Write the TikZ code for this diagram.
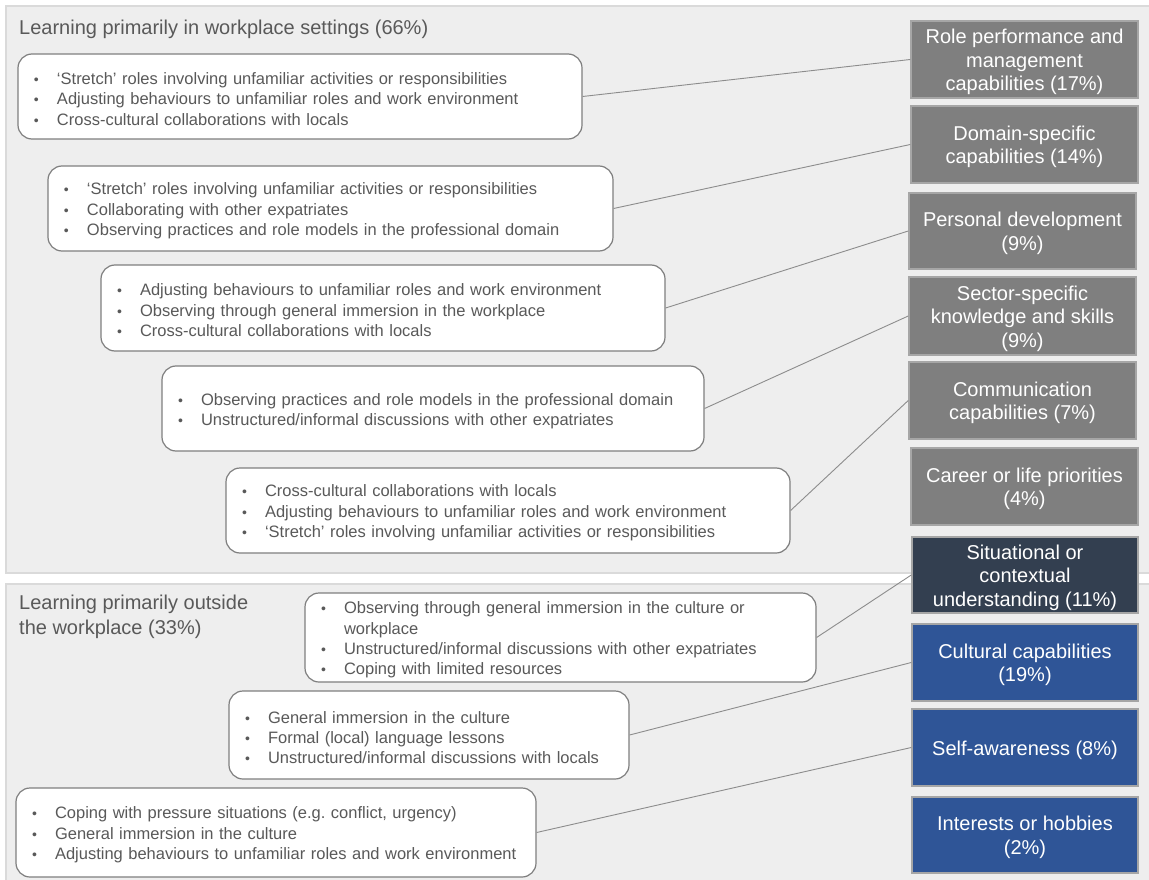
\documentclass[tikz,border=0pt]{standalone}
\usepackage{fontspec}
\setmainfont{Liberation Sans}
\frenchspacing
\definecolor{panelfill}{HTML}{EEEEEE}
\definecolor{panelline}{HTML}{DADADA}
\definecolor{txtgray}{HTML}{595959}
\definecolor{listline}{HTML}{7F7F7F}
\definecolor{boxgray}{HTML}{7F7F7F}
\definecolor{boxline}{HTML}{A6A6A6}
\definecolor{navybox}{HTML}{333F50}
\definecolor{bluebox}{HTML}{2F5597}
\definecolor{connline}{HTML}{8C8C8C}
\newcommand{\itm}[1]{\makebox[24pt][l]{\hspace{1pt}\fontsize{14}{14}\selectfont\textbullet}#1}
\begin{document}
\begin{tikzpicture}[x=1pt,y=-1pt,
  panel/.style={fill=panelfill, draw=panelline, line width=1.5pt},
  listbox/.style={draw=listline, line width=1.2pt, fill=white, rounded corners=14pt, inner sep=0pt},
  listtext/.style={inner xsep=0pt, inner ysep=0pt, align=left, text=txtgray, yshift=-2.5pt,
    font=\fontsize{16.5}{20.4}\selectfont},
  catbox/.style={draw=boxline, line width=1.5pt, inner sep=0pt},
  cattext/.style={text=white, align=center, inner sep=0pt, yshift=-2.5pt,
    font=\fontsize{20}{23.6}\selectfont},
  graybox/.style={catbox, fill=boxgray},
  navyboxst/.style={catbox, fill=navybox},
  blueboxst/.style={catbox, fill=bluebox},
  conn/.style={draw=connline, line width=0.9pt},
  ttl/.style={text=txtgray, font=\fontsize{20}{25}\selectfont, inner sep=0pt, align=left}
]
\useasboundingbox (0,0) rectangle (1149,880);
\fill[white] (0,0) rectangle (1149,880);
% panels
\draw[panel] (6,6) rectangle (1155,573);
\draw[panel] (6,584) rectangle (1155,886);
\node[ttl, anchor=west] (t1) at (19,29) {Learning primarily in workplace settings (66\%)};
\node[ttl, anchor=north west] (t2) at (19,595) {Learning primarily outside\\the workplace (33\%)};

% list boxes
\node[listbox, minimum width=564pt, minimum height=85pt] (a) at (300,96.5) {};
\node[listtext, text width=534pt] (at) at (a.center)
 {\itm{‘Stretch’ roles involving unfamiliar activities or responsibilities}\\
  \itm{Adjusting behaviours to unfamiliar roles and work environment}\\
  \itm{Cross-cultural collaborations with locals}};
\node[listbox, minimum width=565pt, minimum height=85pt] (b) at (330.5,208.5) {};
\node[listtext, text width=535pt] (bt) at (b.center)
 {\itm{‘Stretch’ roles involving unfamiliar activities or responsibilities}\\
  \itm{Collaborating with other expatriates}\\
  \itm{Observing practices and role models in the professional domain}};
\node[listbox, minimum width=564pt, minimum height=86pt] (c) at (383,308) {};
\node[listtext, text width=534pt] (ct) at (c.center)
 {\itm{Adjusting behaviours to unfamiliar roles and work environment}\\
  \itm{Observing through general immersion in the workplace}\\
  \itm{Cross-cultural collaborations with locals}};
\node[listbox, minimum width=542pt, minimum height=85pt] (d) at (433,408.5) {};
\node[listtext, text width=512pt] (dt) at (d.center)
 {\itm{Observing practices and role models in the professional domain}\\
  \itm{Unstructured/informal discussions with other expatriates}};
\node[listbox, minimum width=564pt, minimum height=85pt] (e) at (508,510.5) {};
\node[listtext, text width=534pt] (et) at (e.center)
 {\itm{Cross-cultural collaborations with locals}\\
  \itm{Adjusting behaviours to unfamiliar roles and work environment}\\
  \itm{‘Stretch’ roles involving unfamiliar activities or responsibilities}};
\node[listbox, minimum width=511pt, minimum height=89pt] (f) at (560.5,637.5) {};
\node[listtext, text width=481pt] (ft) at (f.center)
 {\itm{Observing through general immersion in the culture or}\\
  \hspace*{24pt}workplace\\
  \itm{Unstructured/informal discussions with other expatriates}\\
  \itm{Coping with limited resources}};
\node[listbox, minimum width=400pt, minimum height=88pt] (g) at (429,735) {};
\node[listtext, text width=370pt] (gt) at (g.center)
 {\itm{General immersion in the culture}\\
  \itm{Formal (local) language lessons}\\
  \itm{Unstructured/informal discussions with locals}};
\node[listbox, minimum width=520pt, minimum height=89pt] (h) at (276,832.5) {};
\node[listtext, text width=490pt] (ht) at (h.center)
 {\itm{Coping with pressure situations (e.g.\ conflict, urgency)}\\
  \itm{General immersion in the culture}\\
  \itm{Adjusting behaviours to unfamiliar roles and work environment}};

% category boxes
\node[graybox, minimum width=227pt, minimum height=77pt] (r1) at (1024.5,59.5) {};
\node[cattext] (r1t) at (r1.center) {Role performance and\\management\\capabilities (17\%)};
\node[graybox, minimum width=227pt, minimum height=77pt] (r2) at (1024.5,144.5) {};
\node[cattext] (r2t) at (r2.center) {Domain-specific\\capabilities (14\%)};
\node[graybox, minimum width=227pt, minimum height=76pt] (r3) at (1022.5,231) {};
\node[cattext] (r3t) at (r3.center) {Personal development\\(9\%)};
\node[graybox, minimum width=227pt, minimum height=78pt] (r4) at (1022.5,316) {};
\node[cattext] (r4t) at (r4.center) {Sector-specific\\knowledge and skills\\(9\%)};
\node[graybox, minimum width=227pt, minimum height=77pt] (r5) at (1022.5,400.5) {};
\node[cattext] (r5t) at (r5.center) {Communication\\capabilities (7\%)};
\node[graybox, minimum width=227pt, minimum height=77pt] (r6) at (1024.5,486.5) {};
\node[cattext] (r6t) at (r6.center) {Career or life priorities\\(4\%)};
\node[navyboxst, minimum width=226pt, minimum height=76pt] (r7) at (1025,575) {};
\node[cattext] (r7t) at (r7.center) {Situational or\\contextual\\understanding (11\%)};
\node[blueboxst, minimum width=226pt, minimum height=77pt] (r8) at (1025,662.5) {};
\node[cattext] (r8t) at (r8.center) {Cultural capabilities\\(19\%)};
\node[blueboxst, minimum width=226pt, minimum height=77pt] (r9) at (1025,747.5) {};
\node[cattext] (r9t) at (r9.center) {Self-awareness (8\%)};
\node[blueboxst, minimum width=226pt, minimum height=76pt] (r10) at (1025,835) {};
\node[cattext] (r10t) at (r10.center) {Interests or hobbies\\(2\%)};

% connectors
\draw[conn] (a.east) -- (r1.west);
\draw[conn] (b.east) -- (r2.west);
\draw[conn] (c.east) -- (r3.west);
\draw[conn] (d.east) -- (r4.west);
\draw[conn] (e.east) -- (r5.west);
\draw[conn] (f.east) -- (r7.west);
\draw[conn] (g.east) -- (r8.west);
\draw[conn] (h.east) -- (r9.west);
\end{tikzpicture}
\end{document}
